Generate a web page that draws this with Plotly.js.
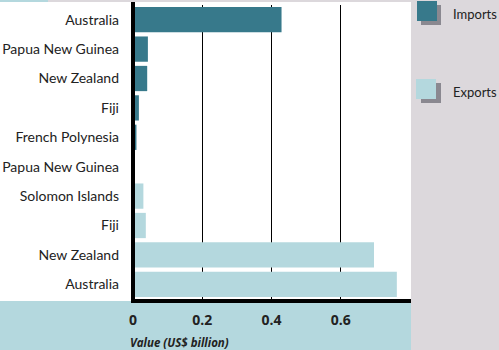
<!DOCTYPE html>
<html>
<head>
<meta charset="utf-8">
<script src="https://cdn.plot.ly/plotly-3.0.1.min.js"></script>
<style>html,body{margin:0;padding:0;background:#dcd8dc;}#chart{width:499px;height:350px;}</style>
</head>
<body>
<div id="chart"></div>
<script>
// Data
const importKeys = ["imp_AUS", "imp_PNG", "imp_NZL", "imp_FJI", "imp_PYF"];
const importLabels = ["Australia", "Papua New Guinea", "New Zealand", "Fiji", "French Polynesia"];
const importValues = [0.429, 0.043, 0.041, 0.017, 0.010];

const exportKeys = ["exp_PNG", "exp_SLB", "exp_FJI", "exp_NZL", "exp_AUS"];
const exportLabels = ["Papua New Guinea", "Solomon Islands", "Fiji", "New Zealand", "Australia"];
const exportValues = [0.005, 0.030, 0.037, 0.696, 0.762];

const xTickVals = [0, 0.2, 0.4, 0.6];
const xTickText = ["0", "0.2", "0.4", "0.6"];

const seriesNames = ["Imports", "Exports"];
const colImports = "#37798b";
const colExports = "#b4d8de";
const colShadow = "#8a8890";
const colPanel = "#dcd8dc";

const allKeys = importKeys.concat(exportKeys);
const allLabels = importLabels.concat(exportLabels);

const L = 133, R = 89, T = 5, B = 51, W = 499, H = 350;
const pw = W - L - R, ph = H - T - B;
const px2x = p => (p - L) / pw;
const px2y = p => (H - B - p) / ph;

const traces = [
  {type: "bar", orientation: "h", name: seriesNames[0], x: importValues, y: importKeys,
   marker: {color: colImports, line: {width: 0}}, width: 0.86, showlegend: false, hoverinfo: "x+name"},
  {type: "bar", orientation: "h", name: seriesNames[1], x: exportValues, y: exportKeys,
   marker: {color: colExports, line: {width: 0}}, width: 0.86, showlegend: false, hoverinfo: "x+name"}
];

const shapes = [
  {type: "rect", xref: "paper", yref: "paper", x0: px2x(0), x1: px2x(411), y0: px2y(303), y1: px2y(2),
   fillcolor: "#ffffff", line: {width: 0}, layer: "below"},
  {type: "rect", xref: "paper", yref: "paper", x0: px2x(0), x1: px2x(411), y0: px2y(350), y1: px2y(301),
   fillcolor: colExports, line: {width: 0}, layer: "below"},
  {type: "rect", xref: "paper", yref: "paper", x0: px2x(0), x1: px2x(48), y0: px2y(2), y1: px2y(0),
   fillcolor: colExports, line: {width: 0}, layer: "below"},
  {type: "rect", xref: "paper", yref: "paper", x0: px2x(421), x1: px2x(441), y0: px2y(25), y1: px2y(5),
   fillcolor: colShadow, line: {width: 0}},
  {type: "rect", xref: "paper", yref: "paper", x0: px2x(417), x1: px2x(437), y0: px2y(21), y1: px2y(1),
   fillcolor: colImports, line: {width: 0}},
  {type: "rect", xref: "paper", yref: "paper", x0: px2x(421), x1: px2x(441), y0: px2y(103), y1: px2y(83),
   fillcolor: colShadow, line: {width: 0}},
  {type: "rect", xref: "paper", yref: "paper", x0: px2x(416), x1: px2x(436), y0: px2y(99), y1: px2y(79),
   fillcolor: colExports, line: {width: 0}},
  {type: "line", xref: "paper", yref: "paper", x0: px2x(133), x1: px2x(133), y0: px2y(303), y1: px2y(2),
   line: {color: "#000", width: 4}},
  {type: "line", xref: "paper", yref: "paper", x0: px2x(131), x1: px2x(411), y0: px2y(301), y1: px2y(301),
   line: {color: "#000", width: 4}}
];

const textFont = {family: "Lato, 'Open Sans', sans-serif", size: 14, color: "#222"};
const legendFont = {family: "Lato, 'Open Sans', sans-serif", size: 13, color: "#222"};

const annotations = [
  {xref: "paper", yref: "paper", x: px2x(451), y: px2y(14), text: seriesNames[0], showarrow: false,
   xanchor: "left", yanchor: "middle", font: legendFont},
  {xref: "paper", yref: "paper", x: px2x(451), y: px2y(92), text: seriesNames[1], showarrow: false,
   xanchor: "left", yanchor: "middle", font: legendFont},
  {xref: "paper", yref: "paper", x: px2x(128), y: px2y(342), text: "<b><i>Value (US$ billion)</i></b>", showarrow: false,
   xanchor: "left", yanchor: "middle", font: {family: "'Open Sans', sans-serif", size: 11.5, color: "#222"}}
];

const layout = {
  width: W, height: H,
  margin: {l: L, r: R, t: T, b: B, pad: 0},
  paper_bgcolor: colPanel,
  plot_bgcolor: "#ffffff",
  barmode: "overlay",
  xaxis: {
    range: [0, 0.8], tickvals: xTickVals, ticktext: xTickText,
    showgrid: true, gridcolor: "#000", gridwidth: 1, zeroline: false, showline: false,
    ticks: "", ticklabelstandoff: 11,
    tickfont: {family: "'Open Sans', sans-serif", size: 14, color: "#222", weight: "bold"},
    fixedrange: true
  },
  yaxis: {
    type: "category", categoryorder: "array", categoryarray: allKeys,
    tickvals: allKeys, ticktext: allLabels,
    range: [9.5, -0.5], showgrid: false, zeroline: false, showline: false,
    ticks: "", ticklabelstandoff: 13,
    tickfont: textFont, fixedrange: true
  },
  shapes: shapes,
  annotations: annotations,
  showlegend: false
};

Plotly.newPlot("chart", traces, layout, {displayModeBar: false, staticPlot: true});
</script>
</body>
</html>
